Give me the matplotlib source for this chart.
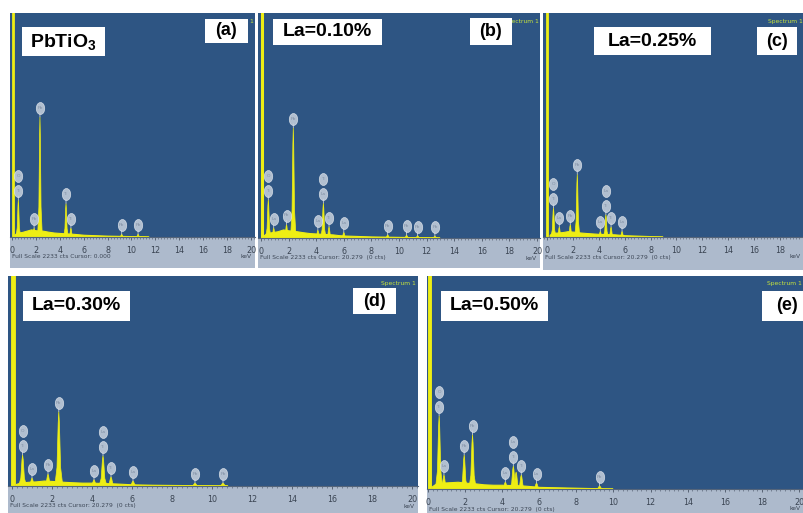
import numpy as np
import matplotlib.pyplot as plt
from matplotlib.patches import Rectangle
from matplotlib.path import Path
from matplotlib.transforms import Affine2D, offset_copy
from matplotlib.ticker import MultipleLocator

plt.rcParams['font.family'] = ['Liberation Sans', 'DejaVu Sans']
plt.rcParams['mathtext.fontset'] = 'custom'
plt.rcParams['mathtext.bf'] = 'Liberation Sans:bold'

W, H = 804, 513
BLUE = '#2e5583'
STRIP = '#adbacc'
YEL = '#eeee14'
PX = 0.72  # points per pixel at dpi 100

## spectra: peak energies (keV), heights (fraction of full scale), labels ##
energy_a = [0.53, 1.85, 2.34, 4.52, 4.93, 9.18, 10.55]
height_a = [0.165, 0.04, 0.536, 0.15, 0.04, 0.012, 0.012]
labels_a = [['Ti', 'O'], ['Pb'], ['Pb'], ['Ti'], ['Ti'], ['Pb'], ['Pb']]
bg_e_a = [0.2, 0.4, 0.8, 1.2, 1.6, 2.0, 2.6, 3.0, 3.5, 4.0, 5.2, 5.6, 6.0, 7.0, 8.0, 9.0, 10.0, 11.0, 11.5]
bg_y_a = [0.01, 0.02, 0.022, 0.028, 0.034, 0.03, 0.028, 0.024, 0.02, 0.018, 0.014, 0.012, 0.01, 0.008, 0.006, 0.005, 0.004, 0.003, 0.0]

energy_b = [0.53, 0.92, 1.85, 2.34, 4.12, 4.52, 4.93, 6.0, 9.18, 10.55, 11.35, 12.6]
height_b = [0.17, 0.045, 0.06, 0.49, 0.035, 0.155, 0.05, 0.025, 0.014, 0.012, 0.01, 0.008]
labels_b = [['Ti', 'O'], ['La'], ['Pb'], ['Pb'], ['La'], ['La', 'Ti'], ['Ti'], ['La'], ['Pb'], ['Pb'], ['Pb'], ['Pb']]
bg_e_b = [0.2, 0.4, 0.8, 1.2, 1.6, 2.0, 2.6, 3.0, 3.5, 4.0, 5.2, 5.6, 6.0, 7.0, 8.0, 9.0, 10.0, 11.0, 12.0, 13.0]
bg_y_b = [0.012, 0.022, 0.026, 0.03, 0.038, 0.034, 0.03, 0.026, 0.022, 0.02, 0.016, 0.013, 0.011, 0.009, 0.007, 0.006, 0.005, 0.004, 0.003, 0.0]

energy_c = [0.5, 0.95, 1.8, 2.34, 4.12, 4.55, 4.95, 5.8]
height_c = [0.13, 0.045, 0.055, 0.28, 0.025, 0.1, 0.045, 0.025]
labels_c = [['Ti', 'O'], ['La'], ['Pb'], ['Pb'], ['La'], ['Ti', 'La'], ['Ti'], ['La']]
bg_e_c = [0.2, 0.4, 0.8, 1.2, 1.6, 2.0, 2.6, 3.0, 3.5, 4.0, 5.2, 5.6, 6.0, 7.0, 8.0, 9.0]
bg_y_c = [0.01, 0.018, 0.02, 0.022, 0.026, 0.024, 0.02, 0.018, 0.016, 0.014, 0.012, 0.01, 0.008, 0.006, 0.004, 0.0]

energy_d = [0.53, 1.0, 1.8, 2.34, 4.1, 4.55, 4.95, 6.05, 9.15, 10.55]
height_d = [0.148, 0.038, 0.057, 0.354, 0.03, 0.144, 0.043, 0.024, 0.014, 0.014]
labels_d = [['Ti', 'O'], ['La'], ['Pb'], ['Pb'], ['La'], ['Ti', 'La'], ['Ti'], ['La'], ['Pb'], ['Pb']]
bg_e_d = [0.2, 0.4, 0.8, 1.2, 1.6, 2.0, 2.6, 3.0, 3.5, 4.0, 5.2, 5.6, 6.0, 7.0, 8.0, 9.0, 10.0, 10.8]
bg_y_d = [0.01, 0.016, 0.02, 0.022, 0.026, 0.024, 0.02, 0.018, 0.016, 0.016, 0.012, 0.01, 0.008, 0.006, 0.005, 0.004, 0.003, 0.0]

energy_e = [0.6, 0.86, 1.95, 2.4, 4.17, 4.6, 4.75, 5.03, 5.85, 9.25]
height_e = [0.344, 0.066, 0.16, 0.255, 0.033, 0.108, 0.08, 0.066, 0.028, 0.014]
labels_e = [['Ti', 'O'], ['La'], ['Pb'], ['Pb'], ['La'], ['Ti', 'La'], [], ['Ti'], ['La'], ['Pb']]
bg_e_e = [0.2, 0.4, 0.8, 1.2, 1.6, 2.0, 2.6, 3.0, 3.5, 4.0, 5.2, 5.6, 6.0, 7.0, 8.0, 9.0, 10.0]
bg_y_e = [0.012, 0.024, 0.03, 0.032, 0.034, 0.03, 0.026, 0.022, 0.02, 0.02, 0.016, 0.013, 0.01, 0.008, 0.006, 0.004, 0.0]

noise_peak = [0.05, 0.05, 0.02, 0.04, 0.1]
titles = [r'$\mathbf{PbTiO_3}$', 'La=0.10%', 'La=0.25%', 'La=0.30%', 'La=0.50%']
tags = ['(a)', '(b)', '(c)', '(d)', '(e)']
cursor = ['Full Scale 2233 cts Cursor: 0.000'] + ['Full Scale 2233 cts Cursor: 20.279  (0 cts)'] * 4
tick_keV = [0, 2, 4, 6, 8, 10, 12, 14, 16, 18, 20]

## layout in pixels: left, right, top, baseline, bottom, px of 0 keV, px per keV ##
layout = [
    (10, 255, 13, 237, 268, 12, 11.95),
    (258, 540, 13, 238, 268, 261, 13.8),
    (543, 804, 13, 237, 270, 547, 12.94),
    (8, 418, 276, 486, 520, 12, 20.0),
    (427, 804, 276, 489, 520, 428, 18.55),
]
title_box = [(22, 27, 105, 56), (273, 19, 382, 45), (594, 27, 711, 55), (23, 291, 130, 321), (441, 291, 548, 321)]
tag_box = [(205, 19, 248, 43), (470, 18, 512, 45), (757, 27, 797, 55), (353, 288, 396, 314), (762, 291, 812, 321)]
zero_lw = [2.0, 2.2, 2.0, 3.5, 2.8]

spectra = [
    (energy_a, height_a, labels_a, bg_e_a, bg_y_a),
    (energy_b, height_b, labels_b, bg_e_b, bg_y_b),
    (energy_c, height_c, labels_c, bg_e_c, bg_y_c),
    (energy_d, height_d, labels_d, bg_e_d, bg_y_d),
    (energy_e, height_e, labels_e, bg_e_e, bg_y_e),
]

fig = plt.figure(figsize=(W / 100, H / 100), dpi=100)
fig.patch.set_facecolor('white')

bubble = Path.unit_circle().transformed(Affine2D().scale(0.7, 1.0))
shape_x = np.array([-1, -0.45, -0.15, 0, 0.15, 0.45, 1])
shape_y = np.array([0, 0.25, 0.85, 1, 0.85, 0.25, 0])
narrow = ['Liberation Sans Narrow', 'DejaVu Sans']


def px_axes(left, right, top, bottom):
    return fig.add_axes([left / W, 1 - bottom / H, (right - left) / W, (bottom - top) / H])


def add_box(box, text, size):
    x0, y0, x1, y1 = box
    fig.add_artist(Rectangle((x0 / W, 1 - y1 / H), (x1 - x0) / W, (y1 - y0) / H,
                             transform=fig.transFigure, fc='white', ec='none', zorder=10))
    fig.text((x0 + x1) / 2 / W, 1 - (y0 + y1) / 2 / H, text, ha='center', va='center',
             fontsize=size, weight='bold', color='black', zorder=11)


for i, (energy, height, labels, bg_e, bg_y) in enumerate(spectra):
    left, right, top, base, bottom, x0, kpx = layout[i]
    xlim = ((left - x0) / kpx, (right - x0) / kpx)

    ## ruler strip ##
    axs = px_axes(left, right, base, bottom)
    axs.set_facecolor(STRIP)
    axs.set_xlim(xlim)
    axs.set_ylim(0, 1)
    axs.set_xticks([])
    axs.set_yticks([])
    for s in axs.spines.values():
        s.set_visible(False)
    hgt = bottom - base
    axs.text(2 / (right - left), (bottom - (base + 20)) / hgt, cursor[i], transform=axs.transAxes,
             fontsize=4.3, color='#3d4756', va='center', ha='left', family=narrow)
    axs.text(1 - 3 / (right - left), (bottom - (base + 20)) / hgt, 'keV',
             transform=axs.transAxes, fontsize=4.3, color='#3d4756', va='center', ha='right',
             family=narrow)

    ## spectrum ##
    ax = px_axes(left, right, top, base)
    ax.set_facecolor(BLUE)
    ax.set_xlim(xlim)
    ax.set_ylim(0, 1)
    for s in ax.spines.values():
        s.set_visible(False)
    ax.spines['bottom'].set_visible(True)
    ax.spines['bottom'].set_color('#55657a')
    ax.spines['bottom'].set_linewidth(0.8)
    ax.set_yticks([])
    ax.set_xticks([t for t in tick_keV if t <= xlim[1]])
    ax.xaxis.set_minor_locator(MultipleLocator(0.25))
    ax.tick_params(axis='x', which='major', direction='out', length=2.4, width=0.6,
                   color='#4a5566', pad=3.8, labelsize=5.8, labelcolor='#3a4452')
    ax.tick_params(axis='x', which='minor', direction='out', length=1.3, width=0.4, color='#4a5566')
    for lab in ax.get_xticklabels():
        lab.set_family(narrow)

    ax.fill_between(bg_e, bg_y, color=YEL, lw=0.8, edgecolor=YEL)
    ax.plot(bg_e, np.zeros(len(bg_e)), color=YEL, lw=1.2, solid_capstyle='butt')
    ax.axvline(noise_peak[i], color=YEL, lw=zero_lw[i])
    for e, h in zip(energy, height):
        ax.fill(e + 0.2 * shape_x, h * shape_y, color=YEL, lw=0.5)

    for e, h, labs in zip(energy, height, labels):
        if labs:
            ax.annotate('', xy=(e, h), xytext=(0, 4 * PX), textcoords='offset points',
                        arrowprops=dict(arrowstyle='-', lw=0.6, color='#c4ccd8', shrinkA=0, shrinkB=0))
        for j, sym in enumerate(labs):
            tr = offset_copy(ax.transData, fig=fig, x=0, y=(9 + 15 * j) * PX, units='points')
            ax.plot(e, h, marker=bubble, ms=12 * PX, transform=tr, mfc='#c9d2de', mec='#e2e7ee',
                    mew=0.5, alpha=0.85, clip_on=False, zorder=5)
            ax.text(e, h, sym, transform=tr, ha='center', va='center', fontsize=3.2,
                    color='#7f8ea3', zorder=6)

    ax.text(0.995, 0.975, 'Spectrum 1', transform=ax.transAxes, ha='right', va='top',
            fontsize=4.3, color='#c8e43c', family=narrow)

    add_box(title_box[i], titles[i], 14)
    add_box(tag_box[i], tags[i], 13)

fig.savefig('out.png', dpi=100, facecolor='white')
